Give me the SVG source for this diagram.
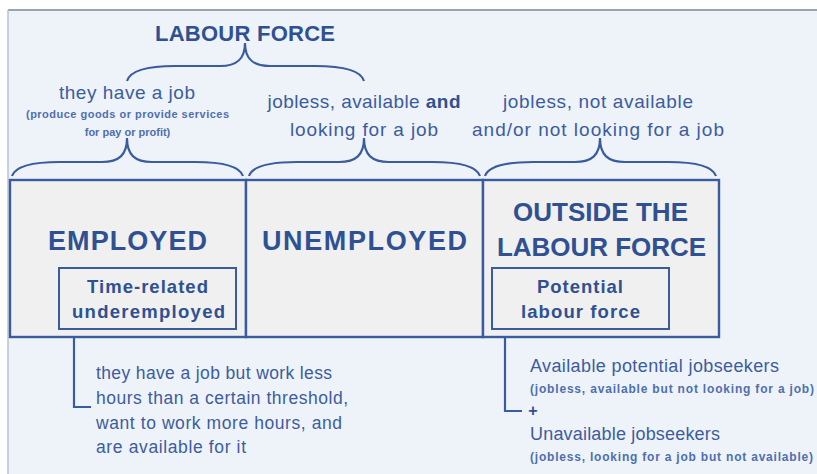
<svg xmlns="http://www.w3.org/2000/svg" width="817" height="474" viewBox="0 0 817 474">
<style>
.t{font-family:"Liberation Sans",Arial,sans-serif;fill:#3d5c9e}
.b{font-family:"Liberation Sans",Arial,sans-serif;font-weight:700;fill:#2f5193}
.s{font-family:"Liberation Sans",Arial,sans-serif;font-weight:700;fill:#4f6fae}
.ln{fill:none;stroke:#3a5c9c;stroke-width:2.2}
.box{fill:#f0f0f0;stroke:#3a5c9c;stroke-width:2.4}
</style>
<rect x="0" y="0" width="817" height="474" fill="#ffffff"/>
<rect x="8" y="10" width="809" height="464" fill="#eef3fa"/>
<line x1="8" y1="10" x2="817" y2="10" stroke="#9aa3af" stroke-width="2"/>
<line x1="8" y1="10" x2="8" y2="474" stroke="#b8c2d0" stroke-width="1.5"/>

<g id="labour-force-title">
<text class="b" x="245" y="41" font-size="22" text-anchor="middle" textLength="180">LABOUR FORCE</text>
</g>

<g id="have-job-label">
<text class="t" x="127" y="99" font-size="19" text-anchor="middle" textLength="136">they have a job</text>
<text class="s" x="127.5" y="118" font-size="11" text-anchor="middle" textLength="203">(produce goods or provide services</text>
<text class="s" x="127.5" y="136" font-size="11" text-anchor="middle">for pay or profit)</text>
</g>

<g id="unemployed-label">
<text class="t" x="364" y="108" font-size="19" text-anchor="middle" textLength="193">jobless, available <tspan font-weight="700" fill="#2f5193">and</tspan></text>
<text class="t" x="364" y="136" font-size="19" text-anchor="middle" textLength="148">looking for a job</text>
</g>

<g id="outside-label">
<text class="t" x="598" y="108" font-size="19" text-anchor="middle" textLength="190">jobless, not available</text>
<text class="t" x="598" y="136" font-size="19" text-anchor="middle" textLength="252">and/or not looking for a job</text>
</g>

<g id="connectors">
<path class="ln" d="M127 81 C130 71 145 66 175 66 L220 66 C237 66 245 59 245 43 C245 59 253 66 270 66 L315 66 C345 66 361 71 364 81"/>
<path class="ln" d="M12 176 C15 167 30 162 60 162 L102 162 C119 162 127 155 127 138 C127 155 135 162 152 162 L195 162 C225 162 240 167 243 176"/>
<path class="ln" d="M249 176 C252 167 267 162 297 162 L339 162 C356 162 364 155 364 138 C364 155 372 162 389 162 L432 162 C462 162 477 167 480 176"/>
<path class="ln" d="M485 176 C488 167 503 162 533 162 L575 162 C592 162 600 155 600 138 C600 155 608 162 625 162 L668 162 C698 162 713 167 716 176"/>
<path class="ln" d="M74 329 L74 407 L91 407"/>
<path class="ln" d="M505 329 L505 411 L522 411"/>
</g>

<g id="employed">
<rect class="box" x="10" y="180" width="236" height="157"/>
<text class="b" x="127.5" y="250" font-size="27" text-anchor="middle" textLength="159">EMPLOYED</text>
</g>

<g id="unemployed">
<rect class="box" x="246" y="180" width="237" height="157"/>
<text class="b" x="364.5" y="250" font-size="27" text-anchor="middle" textLength="205">UNEMPLOYED</text>
</g>

<g id="outside">
<rect class="box" x="483" y="180" width="236" height="157"/>
<text class="b" x="600.5" y="221" font-size="26" text-anchor="middle" textLength="175">OUTSIDE THE</text>
<text class="b" x="601.5" y="256" font-size="26" text-anchor="middle" textLength="209">LABOUR FORCE</text>
</g>

<g id="time-related">
<rect x="59" y="268" width="177" height="61" fill="#f0f0f0" stroke="#3a5c9c" stroke-width="2"/>
<text class="b" x="147.5" y="293" font-size="18.5" text-anchor="middle" textLength="121">Time-related</text>
<text class="b" x="148.5" y="318" font-size="18.5" text-anchor="middle" textLength="153">underemployed</text>
</g>

<g id="potential">
<rect x="492" y="268" width="177" height="61" fill="#f0f0f0" stroke="#3a5c9c" stroke-width="2"/>
<text class="b" x="580" y="293" font-size="18.5" text-anchor="middle" textLength="86">Potential</text>
<text class="b" x="580.5" y="318" font-size="18.5" text-anchor="middle" textLength="119">labour force</text>
</g>

<g id="underemployed-note">
<text class="t" x="96" y="379" font-size="17.5" textLength="236">they have a job but work less</text>
<text class="t" x="96" y="404" font-size="17.5" textLength="252">hours than a certain threshold,</text>
<text class="t" x="96" y="429" font-size="17.5" textLength="246">want to work more hours, and</text>
<text class="t" x="96" y="453" font-size="17.5" textLength="150">are available for it</text>
</g>

<g id="potential-note">
<text class="t" x="530" y="372" font-size="18" textLength="249">Available potential jobseekers</text>
<text class="s" x="530" y="393" font-size="12" textLength="284">(jobless, available but not looking for a job)</text>
<text class="b" x="533" y="416" font-size="16" text-anchor="middle">+</text>
<text class="t" x="530" y="440" font-size="18" textLength="190">Unavailable jobseekers</text>
<text class="s" x="530" y="461" font-size="12" textLength="283">(jobless, looking for a job but not available)</text>
</g>
</svg>
